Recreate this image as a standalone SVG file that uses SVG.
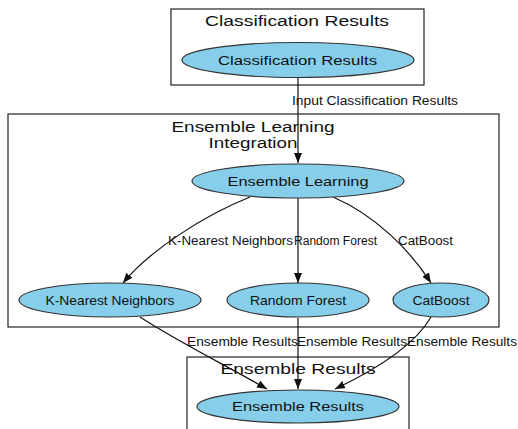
<svg xmlns="http://www.w3.org/2000/svg" width="518" height="429" viewBox="0 0 518 429">
<style>
.cl{fill:none;stroke:#222;stroke-width:1.2}
.nd{fill:#87CEEB;stroke:#333;stroke-width:1.2}
.ct{font-family:"Liberation Sans",Arial,sans-serif;font-size:15.5px;fill:#111;text-anchor:middle}
.nt{font-family:"Liberation Sans",Arial,sans-serif;font-size:13px;fill:#111;text-anchor:middle}
.el{font-family:"Liberation Sans",Arial,sans-serif;font-size:12px;fill:#111}
.ed{fill:none;stroke:#111;stroke-width:1.2}
</style>
<defs>
<marker id="ah" viewBox="0 0 10 8" refX="10" refY="4" markerWidth="10" markerHeight="8" markerUnits="userSpaceOnUse" orient="auto">
<path d="M0,0 L10,4 L0,8 z" fill="#111"/>
</marker>
</defs>
<rect fill="#fff" x="0" y="0" width="518" height="429"/>
<g id="clusters">
<rect class="cl" x="171" y="9" width="253" height="76"/>
<text class="ct" x="297" y="26" textLength="184" lengthAdjust="spacingAndGlyphs">Classification Results</text>
<rect class="cl" x="8" y="114" width="491" height="213"/>
<text class="ct" x="253" y="132" textLength="163" lengthAdjust="spacingAndGlyphs">Ensemble Learning</text>
<text class="ct" x="253" y="148" textLength="89" lengthAdjust="spacingAndGlyphs">Integration</text>
<rect class="cl" x="187" y="357" width="222" height="80"/>
<text class="ct" x="298" y="374" textLength="155" lengthAdjust="spacingAndGlyphs">Ensemble Results</text>
</g>
<g id="connectors">
<path class="ed" d="M298,77 L298,163" marker-end="url(#ah)"/>
<text class="el" x="292" y="105" textLength="166" lengthAdjust="spacingAndGlyphs">Input Classification Results</text>
<path class="ed" d="M250,197 C205,215 150,250 123,283" marker-end="url(#ah)"/>
<path class="ed" d="M298,198 L298,283" marker-end="url(#ah)"/>
<path class="ed" d="M333,197 C375,215 410,250 431,283" marker-end="url(#ah)"/>
<text class="el" x="168" y="245" textLength="125" lengthAdjust="spacingAndGlyphs">K-Nearest Neighbors</text>
<text class="el" x="294" y="245" textLength="83" lengthAdjust="spacingAndGlyphs">Random Forest</text>
<text class="el" x="398" y="245" textLength="55" lengthAdjust="spacingAndGlyphs">CatBoost</text>
<path class="ed" d="M140,317 C175,340 225,365 267,389" marker-end="url(#ah)"/>
<path class="ed" d="M298,318 L298,389" marker-end="url(#ah)"/>
<path class="ed" d="M431,317 C415,345 375,370 335,389" marker-end="url(#ah)"/>
<text class="el" x="187" y="346" textLength="111" lengthAdjust="spacingAndGlyphs">Ensemble Results</text>
<text class="el" x="297" y="346" textLength="110" lengthAdjust="spacingAndGlyphs">Ensemble Results</text>
<text class="el" x="407" y="346" textLength="110" lengthAdjust="spacingAndGlyphs">Ensemble Results</text>
</g>
<g id="n_classification">
<ellipse class="nd" cx="298" cy="60" rx="116" ry="17.5"/>
<text class="nt" x="297.5" y="64.5" textLength="159" lengthAdjust="spacingAndGlyphs">Classification Results</text>
</g>
<g id="n_ensemble_learning">
<ellipse class="nd" cx="298" cy="181" rx="106" ry="17"/>
<text class="nt" x="298" y="186" textLength="141" lengthAdjust="spacingAndGlyphs">Ensemble Learning</text>
</g>
<g id="n_knn">
<ellipse class="nd" cx="110" cy="300" rx="91" ry="17"/>
<text class="nt" x="110" y="305" textLength="129" lengthAdjust="spacingAndGlyphs">K-Nearest Neighbors</text>
</g>
<g id="n_rf">
<ellipse class="nd" cx="298" cy="300" rx="71" ry="17"/>
<text class="nt" x="298" y="305" textLength="96" lengthAdjust="spacingAndGlyphs">Random Forest</text>
</g>
<g id="n_catboost">
<ellipse class="nd" cx="441" cy="300" rx="48" ry="17"/>
<text class="nt" x="441" y="305" textLength="57" lengthAdjust="spacingAndGlyphs">CatBoost</text>
</g>
<g id="n_ensemble_results">
<ellipse class="nd" cx="298" cy="406.5" rx="101" ry="16.5"/>
<text class="nt" x="298" y="411" textLength="132" lengthAdjust="spacingAndGlyphs">Ensemble Results</text>
</g>
</svg>
